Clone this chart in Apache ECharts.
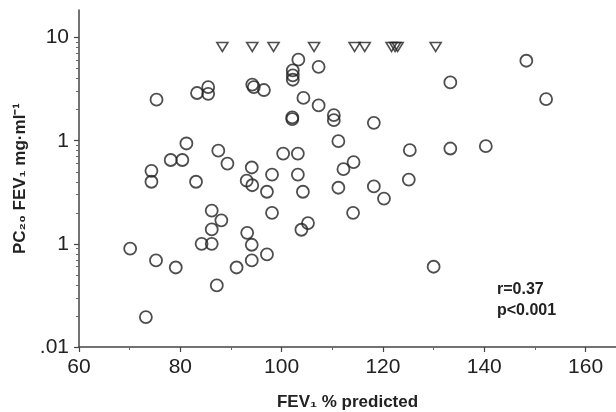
<!DOCTYPE html>
<html>
<head>
<meta charset="utf-8">
<script src="https://cdn.jsdelivr.net/npm/echarts@6/dist/echarts.min.js"></script>
<style>
html,body{margin:0;padding:0;background:#fff;}
#chart{width:616px;height:412px;}
</style>
</head>
<body>
<div id="chart"></div>
<script>
// FEV1 % predicted (x) and PC20 FEV1 mg/ml (y) for measured subjects
const circleX = [75.3, 83.3, 85.5, 85.5, 94.2, 94.5, 96.5, 103.3, 102.2, 102.2, 102.2, 107.3, 104.3, 107.3, 102.1, 102.1, 110.3, 110.3, 111.2, 148.3, 152.2, 133.3, 118.2,
  81.2, 87.5, 89.3, 74.3, 74.3, 78.1, 80.4, 83.1, 94.1, 93.1, 94.2, 98.1, 97.1, 100.3, 103.2, 103.2, 104.2, 112.2, 114.2, 111.2, 114.1,
  86.2, 88.1, 86.2, 98.1, 103.9, 105.2, 93.2, 94.1, 84.2, 86.2, 70.1, 75.2, 79.1, 91.1, 94.1, 97.1,
  125.3, 133.3, 140.3, 118.2, 120.2, 125.1, 130.0, 87.2, 73.2];
const circleY = [2.5, 2.9, 3.3, 2.85, 3.5, 3.3, 3.1, 6.1, 4.8, 4.3, 3.9, 5.2, 2.6, 2.2, 1.68, 1.62, 1.77, 1.58, 0.99, 5.96, 2.53, 3.67, 1.49,
  0.94, 0.80, 0.60, 0.51, 0.40, 0.65, 0.65, 0.40, 0.55, 0.41, 0.37, 0.47, 0.32, 0.75, 0.75, 0.47, 0.32, 0.53, 0.62, 0.35, 0.20,
  0.21, 0.169, 0.138, 0.20, 0.137, 0.159, 0.128, 0.098, 0.10, 0.10, 0.09, 0.069, 0.059, 0.059, 0.069, 0.079,
  0.81, 0.84, 0.885, 0.36, 0.275, 0.42, 0.06, 0.0395, 0.0195];
// subjects above the highest concentration (plotted as triangles)
const triangleX = [88.3, 94.2, 98.4, 106.4, 114.4, 116.4, 121.7, 122.4, 122.9, 130.4];
const triangleY = [8.1, 8.1, 8.1, 8.1, 8.1, 8.1, 8.1, 8.1, 8.1, 8.1];

const xTickValues = [60, 80, 100, 120, 140, 160];
const xMinorTickValues = [70, 90, 110, 130, 150];
const yTickValues = [0.01, 0.1, 1, 10];
const yTickLabels = ['.01', '1', '1', '10'];
const yMinorTickValues = [0.02,0.03,0.04,0.05,0.06,0.07,0.08,0.09,0.2,0.3,0.4,0.5,0.6,0.7,0.8,0.9,2,3,4,5,6,7,8,9];
const statsText = ['r=0.37', 'p<0.001'];

const circleData = circleX.map((x, i) => [x, circleY[i]]);
const triangleData = triangleX.map((x, i) => [x, triangleY[i]]);

const ink = '#222';
const font = '"Liberation Sans", Arial, sans-serif';

const chart = echarts.init(document.getElementById('chart'));
chart.setOption({
  animation: false,
  backgroundColor: '#fff',
  grid: { left: 79, right: 0, top: 10, bottom: 65, containLabel: false, outerBoundsMode: 'none' },
  xAxis: [{
    type: 'value', min: 60, max: 166,
    name: 'FEV\u2081 % predicted', nameLocation: 'middle', nameGap: 47,
    nameTextStyle: { fontFamily: font, fontWeight: 'bold', fontSize: 17, color: ink },
    axisLine: { show: true, onZero: false, lineStyle: { color: '#444', width: 1.5 } },
    axisTick: { show: true, length: 5, customValues: xTickValues, lineStyle: { color: '#444', width: 1.2 } },
    axisLabel: { customValues: xTickValues, margin: 10, fontFamily: font, fontSize: 21, color: ink },
    splitLine: { show: false }
  }, {
    type: 'value', min: 60, max: 166, position: 'bottom',
    axisLine: { show: false },
    axisTick: { show: true, length: 3, customValues: xMinorTickValues, lineStyle: { color: '#666', width: 1 } },
    axisLabel: { show: false },
    splitLine: { show: false }
  }],
  yAxis: [{
    type: 'log', min: 0.01, max: 18.5, logBase: 10,
    name: 'PC\u2082\u2080 FEV\u2081 mg\u00b7ml\u207b\u00b9', nameLocation: 'middle', nameGap: 47, nameRotate: 90,
    nameTextStyle: { fontFamily: font, fontWeight: 'bold', fontSize: 17, color: ink },
    axisLine: { show: true, onZero: false, lineStyle: { color: '#444', width: 1.5 } },
    axisTick: { show: true, length: 5, customValues: yTickValues, lineStyle: { color: '#444', width: 1.2 } },
    axisLabel: {
      customValues: yTickValues, margin: 10, fontFamily: font, fontSize: 21, color: ink,
      formatter: function (v) {
        for (let i = 0; i < yTickValues.length; i++) {
          if (Math.abs(Math.log10(v) - Math.log10(yTickValues[i])) < 1e-6) return yTickLabels[i];
        }
        return '';
      }
    },
    splitLine: { show: false }
  }, {
    type: 'log', min: 0.01, max: 18.5, logBase: 10, position: 'left',
    axisLine: { show: false },
    axisTick: { show: true, length: 3, customValues: yMinorTickValues, lineStyle: { color: '#666', width: 1 } },
    axisLabel: { show: false },
    splitLine: { show: false }
  }],
  series: [{
    type: 'scatter', xAxisIndex: 0, yAxisIndex: 0,
    data: circleData, symbol: 'circle', symbolSize: 12,
    itemStyle: { color: 'rgba(255,255,255,0)', borderColor: ink, borderWidth: 1.8 }
  }, {
    type: 'scatter', xAxisIndex: 0, yAxisIndex: 0,
    data: triangleData, symbol: 'triangle', symbolRotate: 180, symbolSize: [11, 9],
    itemStyle: { color: 'rgba(255,255,255,0)', borderColor: ink, borderWidth: 1.6 }
  }],
  graphic: [{
    type: 'text', left: 497, top: 279,
    style: { text: statsText.join('\n'), fontFamily: font, fontWeight: 'bold', fontSize: 16, lineHeight: 21, fill: ink }
  }]
});
</script>
</body>
</html>
